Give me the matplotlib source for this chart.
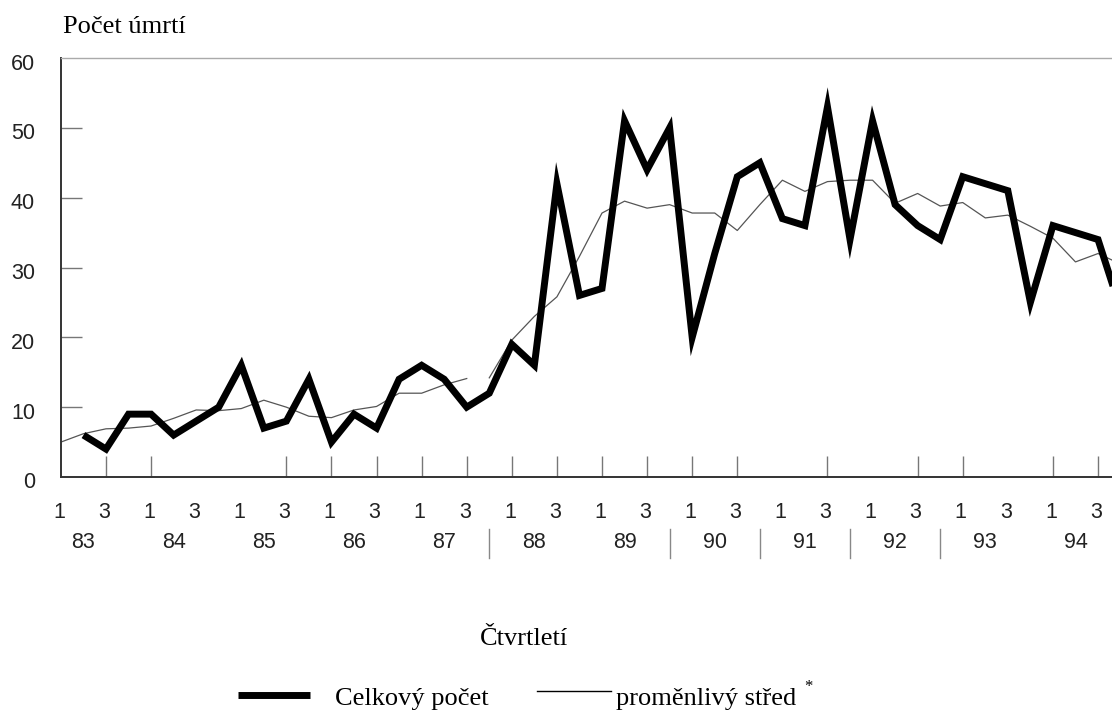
import matplotlib
matplotlib.use("Agg")
import matplotlib.pyplot as plt
import numpy as np
from matplotlib.lines import Line2D

# ---- data -------------------------------------------------------------
years = ["83", "84", "85", "86", "87", "88", "89", "90", "91", "92", "93", "94"]
quarter_labels = ["1", "3"]

# quarterly death counts, starting with the 2nd quarter of 1983
total_deaths = [6, 4, 9, 9, 6, 8, 10, 16, 7, 8, 14, 5, 9, 7, 14, 16, 14, 10, 12,
                19, 16, 42, 26, 27, 51, 44, 50, 20, 32, 43, 45, 37, 36, 53, 34,
                51, 39, 36, 34, 43, 42, 41, 25, 36, 35, 34, 24]

# moving average, starting with the 1st quarter of 1983
moving_avg = [5.0, 6.2, 6.9, 7.0, 7.3, 8.4, 9.6, 9.5, 9.8, 11.0, 10.0, 8.7, 8.5,
              9.6, 10.1, 12.0, 12.0, 13.2, 14.1, 14.2, 19.6, 23.0, 25.8, 31.6,
              37.8, 39.5, 38.5, 39.0, 37.8, 37.8, 35.3, 39.0, 42.5, 40.9, 42.3,
              42.5, 42.5, 39.2, 40.6, 38.8, 39.3, 37.1, 37.5, 35.9, 34.2, 30.8,
              32.0, 30.5]

y_label = "Počet úmrtí"
x_label = "Čtvrtletí"
legend_total = "Celkový počet"
legend_avg = "proměnlivý střed"

# ---- figure ------------------------------------------------------------
W, H = 1112, 712
fig = plt.figure(figsize=(W / 100, H / 100), dpi=100)
fig.patch.set_facecolor("white")

ax_left, ax_bottom, ax_top = 60.9, 477, 58
ax = fig.add_axes([ax_left / W, 1 - ax_bottom / H, (W - ax_left) / W,
                   (ax_bottom - ax_top) / H])

SANS = ["Liberation Sans", "DejaVu Sans"]
SERIF = ["Liberation Serif", "DejaVu Serif"]
NUM_SIZE = 15.5
TXT_SIZE = 19

q_total = np.arange(1, 1 + len(total_deaths))
q_avg = np.arange(len(moving_avg))

# moving average (thin), drawn in two pieces with a short break
brk = 19
ax.plot(q_avg[:brk], moving_avg[:brk], color="#555555", lw=0.9, zorder=2)
ax.plot(q_avg[brk:], moving_avg[brk:], color="#555555", lw=0.9, zorder=2)
# total count (thick)
ax.plot(q_total, total_deaths, color="black", lw=5.0, zorder=3,
        solid_joinstyle="miter", solid_capstyle="butt")

ax.set_xlim(0, 46.62)
ax.set_ylim(0, 60)

ax.spines["right"].set_visible(False)
ax.spines["top"].set_color("#aaaaaa")
ax.spines["top"].set_linewidth(1.0)
ax.spines["left"].set_color("#333333")
ax.spines["left"].set_linewidth(1.4)
ax.spines["bottom"].set_color("#333333")
ax.spines["bottom"].set_linewidth(1.4)

# inward tick marks
ax.set_yticks([10, 20, 30, 40, 50])
ax.set_xticks([2, 4, 10, 12, 14, 16, 18, 20, 22, 24, 26, 28, 30, 34, 38, 40, 44, 46])
ax.tick_params(axis="both", direction="in", length=15, width=1.0, color="#777777",
               labelleft=False, labelbottom=False)

# y tick labels
for v in range(0, 61, 10):
    ax.annotate(str(v), xy=(0, v), xycoords=("axes fraction", "data"),
                xytext=(-26, -6), textcoords="offset pixels",
                ha="right", va="center", fontsize=NUM_SIZE, family=SANS,
                color="#222222")

# quarter labels
n_quarters = 4 * len(years)
for q in range(0, n_quarters, 2):
    if q > 46:
        break
    ax.annotate(quarter_labels[(q // 2) % 2], xy=(q, 0),
                xycoords=("data", "axes fraction"),
                xytext=(-2, -36), textcoords="offset pixels",
                ha="center", va="center", fontsize=NUM_SIZE, family=SANS,
                color="#222222", annotation_clip=False)

# year labels
for k, yr in enumerate(years):
    ax.annotate(yr, xy=(4 * k + 1, 0), xycoords=("data", "axes fraction"),
                xytext=(0, -65), textcoords="offset pixels",
                ha="center", va="center", fontsize=NUM_SIZE, family=SANS,
                color="#222222", annotation_clip=False)

# year separators
axh = ax_bottom - ax_top
for q in [19, 27, 31, 35, 39]:
    ax.plot([q, q], [-52 / axh, -81 / axh], transform=ax.get_xaxis_transform(),
            color="#888888", lw=1.0, clip_on=False)

# axis titles
fig.text(63 / W, 1 - 33 / H, y_label, ha="left", va="baseline",
         fontsize=TXT_SIZE, family=SERIF, color="black")
fig.text(524 / W, 1 - 645 / H, x_label, ha="center", va="baseline",
         fontsize=TXT_SIZE, family=SERIF, color="black")

# legend
base = 1 - 705 / H
fig.add_artist(Line2D([238 / W, 310 / W], [1 - 695 / H] * 2, color="black", lw=5.0,
                      solid_capstyle="butt", transform=fig.transFigure))
fig.text(335 / W, base, legend_total, ha="left", va="baseline",
         fontsize=TXT_SIZE, family=SERIF, color="black")
fig.add_artist(Line2D([537 / W, 611 / W], [1 - 691 / H] * 2, color="black", lw=1.0,
                      transform=fig.transFigure))
fig.text(616 / W, base, legend_avg, ha="left", va="baseline",
         fontsize=TXT_SIZE, family=SERIF, color="black")
fig.text(804 / W, 1 - 687 / H, "*", ha="left", va="center",
         fontsize=12, family=SERIF, color="black")

fig.savefig("out.png", dpi=100, facecolor="white")
